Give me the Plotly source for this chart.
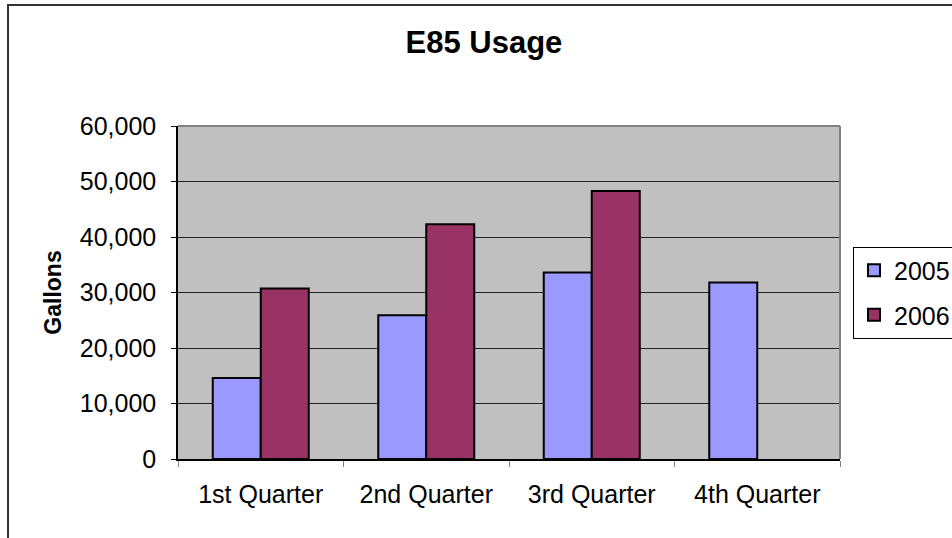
import plotly.graph_objects as go

# --- Data ---
quarters = ["1st Quarter", "2nd Quarter", "3rd Quarter", "4th Quarter"]
gallons_2005 = [14600, 25900, 33600, 31800]
gallons_2006 = [30700, 42300, 48300, None]

FONT = "Arial, Liberation Sans, sans-serif"

fig = go.Figure()
fig.add_trace(go.Bar(
    x=quarters, y=gallons_2005, name="2005", legendgroup="a",
    marker=dict(color="#9999FF", line=dict(color="black", width=2)),
))
fig.add_trace(go.Bar(
    x=quarters, y=gallons_2006, name="2006", legendgroup="b",
    marker=dict(color="#993366", line=dict(color="black", width=2)),
))

# outer chart border (runs off the right/bottom of the picture)
fig.add_shape(type="rect", xref="paper", yref="paper",
              x0=-0.2568, y0=-0.26, x1=1.2, y1=1.3634,
              line=dict(color="#333", width=2), fillcolor="rgba(0,0,0,0)", layer="below")
# grey plot-area frame at top and right
fig.add_shape(type="line", xref="paper", yref="paper", x0=0, y0=1, x1=1, y1=1,
              line=dict(color="#808080", width=2))
fig.add_shape(type="line", xref="paper", yref="paper", x0=1, y0=0, x1=1, y1=1,
              line=dict(color="#808080", width=2))

fig.update_layout(
    width=952, height=538,
    margin=dict(l=178, r=112, t=126, b=79, autoexpand=False),
    paper_bgcolor="white", plot_bgcolor="#C0C0C0",
    barmode="group", bargap=0.42, bargroupgap=0,
    font=dict(family=FONT, color="black", size=25),
    title=dict(text="<b>E85 Usage</b>", x=0.4622, xref="paper", xanchor="center",
               y=0.922, yref="container", yanchor="middle",
               font=dict(size=31, family=FONT, color="black")),
    legend=dict(x=1.0196, xanchor="left", y=0.5, yanchor="middle",
                traceorder="grouped", tracegroupgap=9,
                bordercolor="black", borderwidth=1, bgcolor="white",
                font=dict(size=25, family=FONT)),
    xaxis=dict(showline=True, linecolor="black", linewidth=1.5,
               ticks="outside", tickson="boundaries", ticklen=6, tickcolor="#808080",
               ticklabelstandoff=12,
               tickfont=dict(size=25), showgrid=False),
    yaxis=dict(range=[0, 60000], dtick=10000, tickformat=",",
               showline=True, linecolor="black", linewidth=1.5,
               ticks="outside", ticklen=5, tickcolor="black",
               ticklabelstandoff=10,
               showgrid=True, gridcolor="#222", gridwidth=1, zeroline=False,
               tickfont=dict(size=25),
               title=dict(text="<b>Gallons</b>", font=dict(size=23), standoff=12)),
)

# drop the browser's default page margin so the figure sits at the window corner
fig.write_html("out.html", config={"displayModeBar": False},
               post_script="document.body.style.margin='0';")
